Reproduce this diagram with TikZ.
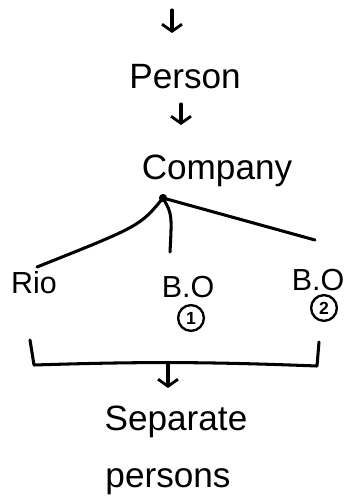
\documentclass[tikz,border=0pt]{standalone}
\usepackage{fontspec}
\setmainfont{Liberation Sans}
\usetikzlibrary{arrows.meta}
\begin{document}
\begin{tikzpicture}[x=0.03cm, y=-0.03cm,
  ink/.style={line width=2.6pt, line cap=round, line join=round},
  downarrow/.style={ink, -{Straight Barb[length=6pt, width=17pt, line width=2.4pt]}},
  word/.style={anchor=base, inner sep=0pt, font=\fontsize{30}{32}\selectfont},
  branchword/.style={anchor=base, inner sep=0pt, font=\fontsize{26}{28}\selectfont},
  numcircle/.style={circle, draw, line width=2pt, inner sep=0pt, minimum size=22pt,
    font=\fontsize{15}{16}\selectfont\bfseries}]
  \useasboundingbox (0,0) rectangle (345,500);

  % labels
  \node[word] (person)   at (185,88)  {Person};
  \node[word] (company)  at (217,179) {Company};
  \node[branchword] (rio) at (34,293) {Rio};
  \node[branchword] (bo1) at (188,297) {B.O};
  \node[branchword] (bo2) at (318,290) {B.O};
  \node[numcircle] (n1) at (191,318) {1};
  \node[numcircle] (n2) at (324,308) {2};
  \node[word] (separate) at (176,430) {Separate};
  \node[word] (persons)  at (168,487) {persons};

  % arrows down the chain
  \coordinate (in)  at (172,10);
  \coordinate (inend) at (172,33);
  \draw[downarrow] (in) -- (inend);
  \coordinate (p2) at (181,104);
  \coordinate (c2) at (181,125);
  \draw[downarrow] (p2) -- (c2);

  % branches from the company
  \coordinate (hub) at (163,198);
  \coordinate (rioend) at (37,267);
  \coordinate (bo1end) at (170,252);
  \coordinate (bo2end) at (315,240);
  \fill (hub) circle (3.5pt);
  \draw[ink] (hub) .. controls (140,226) .. (rioend);
  \draw[ink] (hub) .. controls (172,214) .. (bo1end);
  \draw[ink] (hub) -- (bo2end);

  % bracket gathering the branches
  \coordinate (bl) at (30,340);
  \coordinate (blc) at (34,365);
  \coordinate (brc) at (317,366);
  \coordinate (br) at (319,342);
  \coordinate (bmid) at (168,364);
  \coordinate (bout) at (168,388);
  \draw[ink] (bl) -- (blc) to[bend left=2] (brc) -- (br);
  \draw[downarrow] (bmid) -- (bout);
\end{tikzpicture}
\end{document}
